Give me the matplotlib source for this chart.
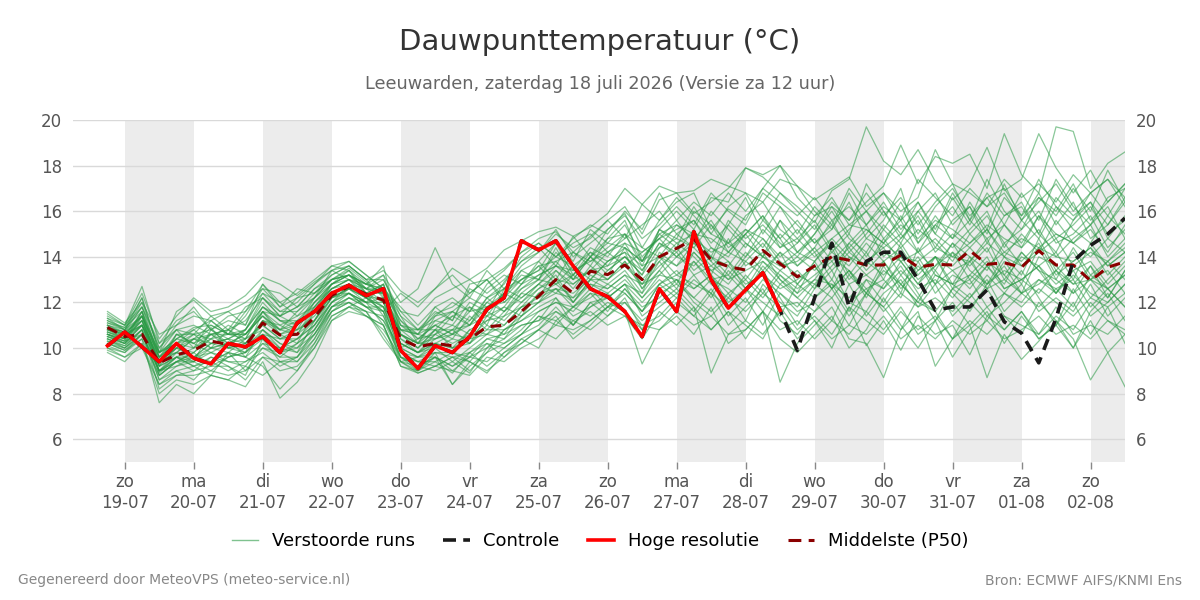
import matplotlib
matplotlib.use("Agg")
import matplotlib.pyplot as plt
from matplotlib.lines import Line2D
import pandas as pd

# ---------------- data ----------------
start_time = "2026-07-18 18:00"
n_steps = 60  # 6-hourly
times = pd.date_range(start_time, periods=n_steps, freq="6h")

hres = [10.1,10.7,10.05,9.4,10.2,9.55,9.3,10.2,10.05,10.5,
        9.8,11.1,11.6,12.4,12.75,12.3,12.6,9.9,9.1,10.1,
        9.8,10.5,11.7,12.2,14.7,14.3,14.7,13.6,12.6,12.25,
        11.6,10.5,12.6,11.6,15.1,13.0,11.75,12.55,13.3,11.65]

control = [10.1,10.7,10.05,9.4,10.2,9.55,9.3,10.2,10.05,10.5,
           9.8,11.1,11.6,12.4,12.75,12.3,12.6,9.9,9.1,10.1,
           9.8,10.5,11.7,12.2,14.7,14.3,14.7,13.6,12.6,12.25,
           11.6,10.5,12.6,11.6,15.1,13.0,11.75,12.55,13.3,11.65,
           9.9,12.2,14.6,11.8,13.8,14.2,14.2,13.0,11.66,11.8,
           11.8,12.55,11.15,10.65,9.35,11.3,13.8,14.5,15.0,15.7]

p50 = [10.9,10.5,10.6,9.35,9.7,9.9,10.3,10.15,10.1,11.1,
       10.57,10.6,11.35,12.3,12.7,12.36,12.1,10.4,10.05,10.2,
       10.1,10.4,10.93,11.0,11.6,12.27,13.0,12.4,13.37,13.22,
       13.64,13.0,14.0,14.37,14.77,13.86,13.57,13.42,14.28,13.7,
       13.12,13.6,14.0,13.85,13.64,13.64,14.08,13.54,13.67,13.64,
       14.27,13.67,13.74,13.54,14.27,13.64,13.64,12.95,13.54,13.78]

members = [
 [11.2,10.9,12.2,9.8,10.4,10.9,11.0,10.6,11.4,12.6, 11.8,12.2,12.4,13.0,13.5,12.9,12.3,10.8,10.6,11.5, 11.8,12.4,13.0,13.5,14.2,14.8,15.1,14.2,14.9,15.6, 16.2,15.0,16.5,16.8,15.9,16.4,17.0,17.9,17.5,16.8, 16.2,15.5,16.9,17.4,19.7,18.2,17.6,18.7,17.3,16.5, 17.2,18.8,16.9,17.4,19.4,17.9,16.8,17.8,16.4,17.2],
 [10.6,10.3,11.6,8.9,9.6,9.4,10.8,10.2,10.4,11.8, 11.2,11.0,12.0,12.8,13.2,12.6,13.0,11.4,10.2,11.2, 11.0,12.0,11.6,12.9,13.8,14.4,13.6,14.9,14.0,15.2, 15.9,14.4,15.6,16.4,16.8,15.2,16.1,15.6,17.0,18.0, 16.6,15.8,16.2,15.6,16.4,17.1,18.9,17.2,18.4,18.1, 18.5,17.0,19.4,17.6,16.8,19.7,19.5,17.0,18.1,18.6],
 [10.2,9.9,10.4,7.6,8.4,8.0,8.8,8.6,8.3,9.4, 7.8,8.5,9.6,11.2,11.6,11.4,11.0,9.4,9.0,9.8, 8.4,9.2,9.8,10.2,10.6,11.0,11.8,11.0,12.0,11.4, 12.2,10.8,12.6,13.0,12.2,11.6,12.4,11.2,12.8,12.0, 11.4,12.6,13.4,12.0,11.6,12.8,13.6,12.4,11.2,12.6, 13.0,11.8,12.4,13.4,12.2,11.0,12.6,11.4,12.0,12.8],
 [10.8,10.6,11.0,9.0,9.4,9.8,9.2,9.6,9.8,10.6, 10.0,10.4,11.0,12.2,12.4,12.0,12.8,10.0,9.6,10.0, 9.4,10.0,10.6,10.4,11.4,12.0,12.6,11.8,12.4,12.2, 12.8,11.4,12.0,12.6,11.8,8.9,10.6,10.8,11.6,8.5, 10.2,11.0,11.8,10.4,10.2,8.7,10.8,11.6,9.2,10.4, 11.0,8.7,10.6,9.5,10.3,11.2,10.4,8.6,9.8,8.3],
 [11.0,10.7,11.8,9.6,10.6,10.2,10.9,10.0,10.8,12.2, 11.4,11.8,12.6,13.2,13.6,13.0,12.2,11.0,10.4,11.0, 10.6,11.2,12.0,12.6,13.4,13.0,14.2,13.4,14.4,14.0, 15.0,13.6,15.2,14.8,16.2,15.0,14.6,15.8,16.4,15.2, 14.6,15.8,16.6,15.4,16.0,15.2,16.4,15.0,16.2,17.0, 15.8,16.6,15.4,16.8,15.6,17.4,16.2,15.4,16.6,17.0],
 [10.4,10.1,10.8,9.2,10.0,9.6,10.2,10.4,9.6,10.8, 10.2,10.0,11.0,12.0,12.8,12.2,11.6,10.2,9.8,10.4, 10.8,10.2,11.4,11.0,11.8,12.6,13.2,12.0,13.0,13.8, 14.2,12.6,13.8,14.6,14.0,13.2,14.8,13.6,14.2,13.0, 12.4,13.8,14.6,13.2,14.2,13.0,14.6,13.4,14.0,12.6, 13.8,14.8,13.2,12.4,14.0,13.6,12.8,13.6,12.2,13.4],
 [11.5,11.0,12.7,10.2,11.2,11.6,10.8,11.2,11.0,12.8, 12.0,11.4,12.2,13.4,13.8,13.2,12.6,11.8,11.0,11.8, 12.2,11.6,12.6,13.2,12.8,13.8,14.6,13.8,15.2,14.6, 15.4,14.0,14.8,15.6,14.6,16.0,15.2,14.4,15.6,14.8, 13.6,14.4,15.6,14.2,15.0,16.0,14.8,15.8,14.4,15.6, 16.2,14.6,15.8,16.4,15.0,14.2,15.6,16.4,14.8,15.8],
 [9.8,9.4,10.2,8.4,9.0,8.6,9.4,9.0,9.4,9.8, 9.2,9.6,10.4,11.6,12.2,11.8,11.2,9.6,9.4,9.2, 9.6,9.0,9.8,10.8,11.2,11.8,12.2,11.4,11.8,12.4, 11.6,10.8,11.2,12.0,11.4,12.4,11.0,11.8,12.6,11.2, 10.6,11.6,12.2,11.0,12.4,11.8,10.8,12.2,11.6,10.4, 11.8,12.6,11.4,10.6,12.0,11.2,10.0,11.6,12.4,11.2],
 [10.7,10.4,11.2,9.4,9.8,10.4,10.0,10.2,10.6,11.4, 10.8,10.6,11.8,12.6,13.0,12.8,13.6,10.6,10.0,10.8, 10.4,11.4,10.8,11.6,12.2,12.8,12.4,13.2,12.6,13.4, 14.0,13.4,14.6,14.2,15.2,13.8,13.0,14.0,14.8,13.8, 13.2,12.8,13.6,14.4,13.4,14.2,13.8,12.8,13.6,14.6, 13.4,12.8,14.0,13.2,14.8,13.4,14.2,13.0,13.8,14.4],
 [11.0,10.8,11.4,9.8,10.8,10.6,11.4,11.6,11.0,12.4, 11.6,12.0,12.8,13.6,13.4,12.4,11.8,10.8,10.8,11.6, 11.2,12.6,12.2,12.8,14.0,14.6,14.0,14.6,15.0,14.2, 14.8,15.4,16.0,15.0,15.6,14.6,15.4,16.6,15.0,16.2, 15.4,14.6,15.2,16.4,14.8,15.6,17.0,14.6,15.8,14.8, 16.4,15.2,17.2,15.6,16.8,15.4,16.4,14.8,15.4,16.6],
 [10.3,10.0,10.6,9.0,9.2,9.6,9.8,9.4,9.2,10.2, 9.6,10.2,10.8,11.8,12.0,11.6,10.4,9.4,9.2,9.6, 9.0,9.6,9.4,10.0,10.6,11.4,11.0,11.8,11.4,12.0, 11.6,9.3,10.8,11.4,10.6,11.8,10.2,10.8,11.6,10.4, 9.8,10.6,11.4,10.0,10.8,12.2,11.0,10.0,11.2,9.6, 10.8,11.6,10.2,11.4,10.4,11.0,12.0,10.6,11.8,10.2],
 [10.9,10.6,11.0,9.6,10.2,10.0,10.6,10.8,10.2,11.2, 10.8,11.2,11.6,12.4,12.6,12.0,12.2,10.6,10.2,10.2, 9.8,10.8,11.2,11.4,12.4,12.2,13.4,12.6,13.6,13.0, 13.8,12.8,13.2,14.0,13.6,14.4,13.8,13.0,14.0,13.4, 14.0,13.4,14.2,13.6,14.6,13.8,14.4,13.2,14.0,13.6, 14.4,13.6,14.2,13.8,14.6,13.2,13.8,14.4,13.2,14.0],
 [10.5,10.2,10.8,8.6,9.0,9.2,8.8,9.8,9.6,9.2, 8.2,9.0,10.0,11.4,11.8,12.2,11.8,9.8,9.4,9.4, 8.9,9.8,9.2,9.8,10.4,10.0,11.2,10.6,11.2,11.8, 12.4,11.6,12.8,13.4,12.6,13.2,12.0,12.6,13.4,12.2, 11.0,12.2,12.8,11.6,13.0,12.0,13.2,12.2,13.4,12.4, 11.6,12.8,13.6,12.4,13.0,12.6,11.8,13.2,12.6,11.8],
 [11.3,10.8,12.0,10.0,11.0,11.4,11.2,11.6,12.0,12.6, 12.4,11.8,12.6,13.0,13.2,12.8,13.2,12.0,12.6,14.4, 12.8,12.2,13.4,12.6,13.6,14.2,15.2,14.0,14.6,15.2, 15.8,14.8,15.4,16.2,15.4,16.8,16.0,15.4,16.8,16.2, 15.0,16.2,15.4,17.0,16.0,16.8,15.6,17.4,16.6,15.8, 17.0,16.2,16.8,15.6,16.4,17.2,16.0,16.8,17.4,16.2],
 [10.6,10.4,11.4,9.2,9.6,10.0,10.4,10.0,9.8,11.6, 10.6,10.8,11.4,12.4,12.8,12.4,12.0,10.2,9.8,10.0, 10.4,10.2,11.0,10.6,11.6,12.4,12.8,12.2,13.2,12.8, 13.4,12.4,14.2,13.6,14.2,13.4,12.8,13.8,13.2,14.2, 12.8,13.6,12.6,13.4,12.4,13.8,12.6,13.4,14.0,12.8, 13.2,14.0,12.6,13.0,13.6,12.4,13.4,12.2,13.0,13.8],
 [11.1,10.9,11.6,9.8,10.4,10.8,10.2,10.4,10.8,12.0, 11.2,10.8,12.0,12.8,13.0,12.6,12.4,11.2,10.6,10.4, 10.8,11.0,11.8,12.2,13.0,13.6,13.8,13.0,14.0,14.6, 14.4,13.8,15.0,15.4,15.0,14.0,15.6,14.8,15.4,14.6, 14.0,15.0,16.0,14.8,14.2,15.4,14.6,16.0,15.0,14.4, 15.2,16.0,14.4,15.6,14.8,16.2,15.2,14.6,15.8,15.0],
 [10.0,9.8,10.6,8.8,9.4,9.0,9.6,9.2,8.8,10.4, 9.8,10.0,10.6,11.8,12.4,12.0,11.0,9.2,9.0,9.4, 9.8,9.4,10.2,9.6,10.2,10.8,11.4,10.4,11.0,11.8, 12.0,11.2,11.8,12.4,11.6,12.6,11.4,12.2,11.0,12.4, 11.6,12.0,11.2,12.8,11.4,12.4,13.0,11.8,12.2,11.6, 12.4,11.4,12.0,12.8,11.6,12.2,11.6,12.8,11.4,12.2],
 [10.8,10.5,11.2,9.4,10.0,9.8,10.4,10.6,10.4,11.0, 10.4,10.6,11.2,12.2,12.6,12.2,12.6,10.4,10.0,10.6, 10.2,10.6,11.6,11.2,12.0,12.6,13.0,12.8,13.4,13.6, 14.0,13.2,14.4,14.8,14.4,13.6,14.2,13.8,14.6,13.6, 13.8,14.4,13.4,14.2,13.6,14.8,13.8,14.2,13.4,14.6, 14.0,13.4,14.6,13.6,14.2,14.8,13.6,14.2,13.8,14.6],
 [10.4,10.2,11.0,9.0,9.8,9.4,10.0,10.2,10.0,10.8, 10.2,9.8,11.2,12.4,12.8,12.4,11.4,9.8,9.6,10.2, 10.6,10.4,11.2,11.8,11.4,12.0,12.4,12.2,12.8,12.4, 13.0,12.2,13.0,12.4,13.2,12.2,13.4,12.6,12.0,11.4, 12.8,12.2,13.0,12.0,12.6,11.6,12.4,11.8,12.8,11.4, 12.2,13.0,11.6,12.4,11.8,12.6,13.0,11.8,12.6,11.8],
 [11.4,11.0,12.4,10.4,11.4,12.2,11.6,11.8,12.3,13.1, 12.8,12.3,12.9,13.4,13.6,13.0,13.4,12.5,12.0,12.6, 13.5,13.0,13.5,14.3,14.7,15.1,15.3,14.9,15.3,15.9, 17.0,16.3,17.1,16.8,16.9,17.4,17.1,16.8,16.4,17.4, 17.1,16.5,17.0,17.5,16.2,16.8,16.0,16.6,18.7,17.2, 16.8,16.2,17.4,16.6,17.2,16.4,17.6,16.8,17.4,16.6],
 [10.2,10.0,10.8,8.2,8.8,8.8,9.0,8.8,9.0,9.6, 9.4,9.4,10.2,11.6,12.0,11.4,10.8,9.6,9.2,9.0, 9.4,8.9,10.0,10.4,11.0,11.2,11.6,11.2,11.6,11.0, 11.4,10.4,11.6,11.0,11.8,10.8,11.6,11.0,10.4,11.8, 10.8,11.4,10.6,11.8,11.2,10.6,11.6,10.8,11.4,10.4, 11.2,10.6,11.4,11.0,10.6,11.8,10.6,11.0,10.6,11.4],
 [10.7,10.4,11.6,9.6,10.2,10.4,11.0,10.6,10.6,11.6, 11.0,11.4,11.8,12.8,13.2,12.8,12.6,11.2,10.4,10.6, 11.4,11.8,11.4,12.4,13.0,13.4,14.0,13.6,14.2,13.6, 14.6,14.2,14.8,15.2,15.6,14.4,14.0,15.0,15.8,14.4, 15.2,14.2,14.8,15.4,15.2,14.6,15.4,14.8,15.6,15.2, 14.6,15.4,14.8,14.4,15.8,14.6,15.0,15.8,14.4,15.2],
 [10.9,10.7,11.2,9.4,10.6,10.6,10.0,10.8,10.4,11.6, 11.4,11.0,12.2,13.0,13.4,12.6,12.0,10.8,10.2,10.8, 10.0,10.8,10.6,11.0,11.8,12.0,13.0,12.0,13.0,12.6, 13.2,12.8,14.0,13.2,13.8,13.0,13.2,12.4,13.6,12.8, 13.4,12.6,14.4,13.0,13.8,13.2,14.0,13.0,13.6,14.2, 13.0,13.8,13.2,14.2,13.4,13.0,14.4,13.2,13.8,13.0],
 [10.5,10.3,10.6,9.0,9.6,9.2,9.6,9.4,9.4,10.0, 9.6,9.6,10.8,12.0,12.4,11.8,11.6,9.4,9.6,9.8, 9.6,9.8,10.4,10.2,10.8,11.6,12.0,11.6,12.4,11.6, 12.6,11.8,12.2,13.0,12.0,11.4,12.2,11.6,12.4,11.8, 12.0,11.2,10.0,11.8,10.1,11.2,9.9,11.4,10.6,11.0, 9.7,11.4,10.8,11.6,10.4,11.0,10.0,11.2,9.8,10.6],
 [11.2,10.8,11.8,10.0,10.8,11.0,10.6,10.8,11.2,12.2, 11.6,11.6,12.4,13.0,13.2,12.6,12.6,11.4,10.8,11.2, 11.6,11.2,12.2,12.6,13.0,13.4,14.6,13.2,14.0,14.8, 15.0,14.4,14.0,15.0,14.4,15.4,14.6,15.2,14.4,15.6, 14.8,15.6,14.4,15.2,16.0,14.8,15.6,14.2,15.4,16.2, 15.0,15.8,14.6,15.2,16.0,14.8,15.4,16.2,15.0,15.6],
 [10.1,9.8,10.4,8.8,9.4,9.6,9.4,9.8,9.6,10.2, 10.0,9.8,10.6,11.8,12.2,11.8,11.2,10.0,9.6,9.6, 9.2,9.6,10.0,10.8,11.2,11.6,12.0,11.8,12.2,12.8, 12.4,11.6,12.4,12.8,12.2,13.0,12.6,12.0,13.0,12.4, 11.8,12.8,12.2,13.2,12.4,13.4,12.8,12.0,13.2,12.8, 12.2,13.2,12.4,12.0,13.0,12.4,13.2,12.4,12.0,12.8],
 [11.0,10.6,11.4,9.8,10.2,10.6,10.8,10.4,10.8,11.8, 11.2,11.2,12.0,12.6,13.0,12.4,12.8,11.0,10.8,10.8, 10.8,11.6,11.8,12.0,12.6,13.2,13.6,13.4,13.8,14.2, 14.6,13.4,14.6,14.0,14.8,14.2,14.6,14.0,15.2,14.4, 14.8,14.0,14.6,13.8,14.8,14.4,15.0,14.2,14.8,14.0, 14.6,15.2,14.2,14.8,14.4,15.0,14.6,14.0,14.8,14.2],
 [10.6,10.2,11.0,9.2,9.6,9.6,10.2,10.0,10.2,10.6, 10.4,10.4,11.0,12.0,12.6,12.2,12.2,10.2,9.8,10.2, 10.0,10.2,10.8,10.8,11.4,12.4,12.6,12.4,13.0,13.0, 13.6,12.8,13.6,14.2,13.2,13.6,13.0,13.4,13.8,13.2, 12.6,13.2,13.8,12.8,13.2,13.8,12.8,13.6,12.8,13.4, 13.8,12.8,13.4,13.0,13.6,12.8,13.4,13.8,12.8,13.6],
 [10.8,10.6,11.4,9.6,10.4,10.2,10.6,10.6,10.6,11.4, 10.8,11.0,11.6,12.6,13.0,12.6,12.4,10.6,10.2,10.4, 10.6,11.0,11.4,11.8,12.8,13.2,13.6,13.2,14.2,13.8, 14.4,13.8,15.2,16.0,15.2,16.6,16.4,17.9,17.6,18.0, 17.1,16.0,15.2,16.8,15.4,16.2,15.6,16.4,15.0,16.6, 15.4,16.8,15.8,16.2,15.0,16.6,15.8,16.4,15.4,16.4],
 [10.3,10.1,10.8,9.0,9.4,9.4,9.8,9.6,9.8,10.6, 9.8,10.2,10.8,12.0,12.4,11.8,11.8,9.8,9.4,9.8, 9.8,9.6,10.4,10.6,11.0,11.2,12.2,11.0,12.0,12.2, 12.8,12.0,12.8,13.2,12.8,12.4,13.6,12.8,13.2,12.6, 13.0,13.6,12.6,13.4,12.6,13.0,12.2,13.8,12.4,13.2, 12.8,13.6,12.6,13.0,12.4,13.4,12.8,13.0,13.4,12.4],
 [10.9,10.5,11.0,9.8,11.6,12.1,11.4,10.8,11.8,12.2, 11.4,12.2,12.8,13.4,13.0,12.2,11.6,12.4,11.8,12.6, 13.2,12.4,13.0,12.2,13.4,13.8,13.0,14.2,13.6,14.8, 15.6,13.8,15.0,14.4,16.0,15.4,14.2,15.0,14.0,15.6, 14.2,15.0,16.2,15.0,17.2,16.0,15.0,16.4,15.2,16.8, 15.6,17.4,16.0,15.2,16.6,15.8,17.0,16.0,17.8,16.4],
 [10.4,10.0,10.6,8.6,9.2,9.4,9.0,9.6,10.0,11.2, 10.6,10.2,11.6,12.2,12.6,12.4,12.8,10.8,10.6,11.8, 11.2,12.8,13.0,12.0,12.8,13.6,12.8,13.2,14.0,13.2, 14.4,13.0,13.8,12.8,14.2,13.4,13.8,12.6,13.8,13.0, 12.2,13.0,14.0,13.4,12.2,13.6,12.4,14.4,13.2,12.8, 14.0,12.6,13.8,12.8,14.4,13.0,12.4,13.6,12.6,13.2],
 [10.6,10.4,11.2,9.2,10.6,10.2,9.8,10.2,9.8,10.4, 9.4,9.6,10.6,11.6,12.0,11.6,11.4,9.6,9.0,9.6, 8.4,9.4,8.9,9.8,10.2,10.8,11.6,11.0,11.8,12.2, 12.8,12.4,13.4,12.6,13.8,12.8,12.2,13.2,12.4,13.4, 12.8,13.8,12.6,14.0,13.2,12.6,13.8,12.8,14.0,13.4, 12.6,13.6,12.8,14.2,13.4,12.4,13.6,13.0,12.2,13.4],
 [11.6,11.1,12.0,10.6,11.0,11.8,10.8,11.4,11.6,12.4, 12.0,12.4,13.0,13.6,13.8,13.2,12.6,11.6,10.8,11.4, 12.0,11.6,12.8,13.4,14.2,14.6,14.0,14.8,15.4,15.0, 16.0,15.2,16.8,15.6,16.4,15.8,16.8,16.0,17.0,16.4, 15.8,16.6,15.6,16.2,15.4,16.4,15.2,16.0,16.8,15.4, 16.2,15.0,16.6,15.8,17.4,16.2,15.6,16.8,15.8,17.0],
 [10.0,9.6,10.2,8.0,8.6,8.4,8.8,8.6,9.2,8.8, 9.4,9.0,10.2,11.4,11.8,11.6,10.6,9.4,8.9,9.2, 9.6,9.4,9.0,9.6,10.4,10.8,10.4,11.2,10.8,11.4, 12.0,11.0,11.4,12.2,11.4,10.8,11.6,10.4,11.6,10.8, 11.2,10.4,11.2,10.6,11.6,10.8,11.8,10.6,11.2,12.0, 11.0,11.8,10.8,11.6,10.6,11.4,10.8,12.0,11.2,10.6],
 [10.8,10.4,11.0,9.4,10.0,10.6,10.4,11.0,10.6,11.6, 10.8,11.6,12.2,12.8,13.4,12.8,12.4,10.4,9.8,10.6, 11.0,10.6,11.6,12.4,12.0,12.8,13.4,12.8,13.4,14.2, 13.6,14.2,14.8,14.0,14.6,13.8,15.4,14.6,14.0,15.0, 14.2,14.8,13.8,14.6,15.4,14.0,14.8,15.6,14.2,15.0, 14.4,15.2,14.0,15.0,14.2,15.6,14.6,15.2,14.2,15.4],
 [10.5,10.2,11.4,8.8,9.4,9.8,10.6,10.0,10.2,11.0, 10.4,10.8,11.2,12.4,12.4,12.0,12.0,10.0,10.4,11.0, 10.6,11.8,11.0,12.6,12.2,12.8,13.6,13.0,13.4,13.0, 13.8,12.6,13.4,14.4,13.4,14.0,13.2,14.2,13.4,14.2, 13.6,14.2,13.0,14.6,13.8,14.4,13.2,14.0,12.8,14.2, 13.6,14.4,13.0,14.0,13.6,14.2,13.0,14.6,13.6,14.2],
 [11.3,11.0,11.8,10.2,10.8,10.0,11.2,10.6,11.6,12.8, 11.8,12.6,12.4,13.2,13.6,13.0,13.0,11.6,11.4,12.2, 12.6,13.0,12.4,13.0,13.8,14.2,15.0,14.4,14.8,15.6, 14.8,16.3,15.6,16.6,15.8,15.0,16.2,16.8,15.6,16.8, 16.0,15.2,16.4,15.6,16.8,15.8,16.6,15.4,16.4,17.2, 15.6,16.6,17.0,15.8,16.6,16.0,17.2,15.6,16.4,17.2],
 [10.2,9.9,10.6,9.0,9.6,9.2,9.4,9.8,9.0,10.0, 9.8,9.4,10.4,11.8,12.2,12.0,11.6,9.6,9.2,9.6, 9.2,9.8,10.2,10.0,10.6,11.4,11.2,11.8,12.6,11.8, 12.6,11.6,12.8,12.2,13.0,12.4,11.8,12.6,11.6,12.8, 12.2,11.6,12.6,11.4,12.4,11.8,12.8,12.0,11.6,12.6, 12.0,11.2,12.4,11.8,12.6,12.0,11.4,12.2,11.8,12.4],
 [10.9,10.7,11.4,9.6,9.8,10.4,10.2,10.4,10.2,11.2, 11.0,10.6,11.6,12.8,13.2,12.4,12.4,10.6,10.2,11.4, 11.6,11.0,12.2,11.6,12.6,13.0,14.4,13.0,14.0,13.4, 14.0,13.2,15.2,14.6,15.0,14.8,14.2,15.2,14.8,14.0, 14.6,15.4,14.2,15.0,14.0,15.2,14.4,15.2,14.6,13.8, 15.0,14.2,15.4,14.4,15.2,14.0,14.8,15.4,14.0,14.8],
 [10.6,10.3,11.0,9.4,9.8,9.6,10.0,9.8,10.4,10.8, 10.0,10.4,11.2,12.2,12.6,12.2,11.8,10.2,9.8,10.2, 10.0,10.4,10.6,11.4,11.8,12.2,12.6,12.0,12.8,12.6, 13.2,12.2,13.2,13.0,12.6,13.2,12.4,13.0,12.2,13.2, 12.4,13.0,12.8,12.2,13.0,12.6,13.4,12.6,13.0,12.2, 13.2,12.6,13.0,12.4,12.8,13.4,12.4,13.0,12.6,13.2],
 [11.1,10.8,12.2,9.8,10.2,10.8,11.2,10.6,10.8,11.8, 11.4,11.8,12.2,13.0,13.2,12.8,12.6,10.6,10.0,10.8, 11.6,12.2,11.8,12.4,13.2,13.0,13.8,14.2,13.8,14.4, 15.0,13.8,14.4,15.4,14.8,15.6,14.4,15.0,15.8,14.8, 15.6,14.6,15.4,14.4,15.2,14.6,15.8,14.6,15.4,14.8, 15.6,14.8,15.4,14.6,15.8,15.0,14.6,15.4,16.2,14.8],
 [9.9,9.6,10.0,8.4,8.8,9.0,9.2,9.2,8.6,9.6, 9.0,9.2,10.0,11.2,11.8,11.4,11.0,9.2,8.9,9.2, 9.0,8.8,9.6,9.4,10.0,10.4,11.0,10.8,11.2,11.8, 11.4,11.0,10.8,11.6,11.0,11.4,10.6,11.2,10.6,11.6, 10.4,11.2,10.4,11.0,10.6,11.4,10.4,11.0,10.4,11.2, 10.6,11.2,10.4,10.8,11.4,10.6,11.0,10.4,11.2,10.8],
 [10.7,10.5,11.6,9.4,10.0,10.4,10.6,10.2,10.6,11.4, 10.6,11.0,11.8,12.6,12.8,12.6,13.2,11.0,10.6,11.0, 11.4,11.0,12.0,11.6,12.4,13.0,12.8,13.6,13.0,13.8, 14.2,13.6,14.0,13.6,14.6,14.0,13.6,14.6,14.0,13.6, 14.2,13.8,14.8,14.0,13.6,14.6,14.0,13.8,14.4,14.0, 13.8,14.6,14.0,13.6,14.4,14.0,13.8,14.4,13.6,14.2],
]

day_labels = ["zo\n19-07", "ma\n20-07", "di\n21-07", "wo\n22-07", "do\n23-07",
              "vr\n24-07", "za\n25-07", "zo\n26-07", "ma\n27-07", "di\n28-07",
              "wo\n29-07", "do\n30-07", "vr\n31-07", "za\n01-08", "zo\n02-08"]
first_tick_day = "2026-07-19"
x_start, x_end = "2026-07-18 06:00", "2026-08-02 12:00"
y_ticks = [6, 8, 10, 12, 14, 16, 18, 20]

title = "Dauwpunttemperatuur (°C)"
subtitle = "Leeuwarden, zaterdag 18 juli 2026 (Versie za 12 uur)"
legend_labels = ["Verstoorde runs", "Controle", "Hoge resolutie", "Middelste (P50)"]
footer_left = "Gegenereerd door MeteoVPS (meteo-service.nl)"
footer_right = "Bron: ECMWF AIFS/KNMI Ens"

# ---------------- plot ----------------
plt.rcParams['font.family'] = ['DejaVu Sans']
fig = plt.figure(figsize=(12, 6), dpi=100)
ax = fig.add_axes([73/1200, 1-462/600, (1125-73)/1200, (462-120)/600])

tick_days = pd.date_range(first_tick_day, periods=len(day_labels), freq="D")
xs0, xs1 = pd.Timestamp(x_start), pd.Timestamp(x_end)

# alternating day shading
for i in range(0, len(tick_days), 2):
    d0 = tick_days[i]
    d1 = d0 + pd.Timedelta(days=1)
    ax.axvspan(d0, min(d1, xs1), color="#ececec", lw=0, zorder=0)

ax.set_ylim(5, 20)
ax.set_yticks(y_ticks)
ax.grid(axis="y", color="#d9d9d9", lw=1, zorder=1)
ax.set_axisbelow(True)

green = "#2a9a45"
for m in members:
    ax.plot(times[:len(m)], m, color=green, lw=0.9, alpha=0.55, zorder=2)

ax.plot(times[:len(p50)], p50, color="#8b0000", lw=2.2, dashes=(3.5, 2.5), zorder=3)
ax.plot(times[:len(control)], control, color="#1a1a1a", lw=2.6, dashes=(3.2, 2.2), zorder=4)
ax.plot(times[:len(hres)], hres, color="#ff0000", lw=2.6, zorder=5)

ax.set_xlim(xs0, xs1)
ax.set_xticks(tick_days)
ax.set_xticklabels(day_labels)
ax.tick_params(axis="x", length=5, width=1, color="#888888", labelcolor="#555555",
               labelsize=12, pad=3)
ax.tick_params(axis="y", length=0, labelcolor="#555555", labelsize=12,
               labelleft=True, labelright=True, pad=8)
for s in ax.spines.values():
    s.set_visible(False)

fig.text(0.5, 1-42/600, title, ha="center", va="center", fontsize=21, color="#333333")
fig.text(0.5, 1-84/600, subtitle, ha="center", va="center", fontsize=12.7, color="#666666")

handles = [
    Line2D([], [], color=green, lw=1, alpha=0.6),
    Line2D([], [], color="#1a1a1a", lw=2.6, dashes=(3.6, 2.0)),
    Line2D([], [], color="#ff0000", lw=2.6),
    Line2D([], [], color="#8b0000", lw=2.2, dashes=(4.2, 2.4)),
]
fig.legend(handles, legend_labels, loc="center", bbox_to_anchor=(0.5, 1-541/600),
           ncol=4, frameon=False, fontsize=13, handlelength=1.45, columnspacing=1.6,
           handletextpad=0.75)

fig.text(18/1200, 1-580/600, footer_left, ha="left", va="center", fontsize=10, color="#888888")
fig.text(1182/1200, 1-580/600, footer_right, ha="right", va="center", fontsize=10, color="#888888")

fig.savefig("out.png", dpi=100)
